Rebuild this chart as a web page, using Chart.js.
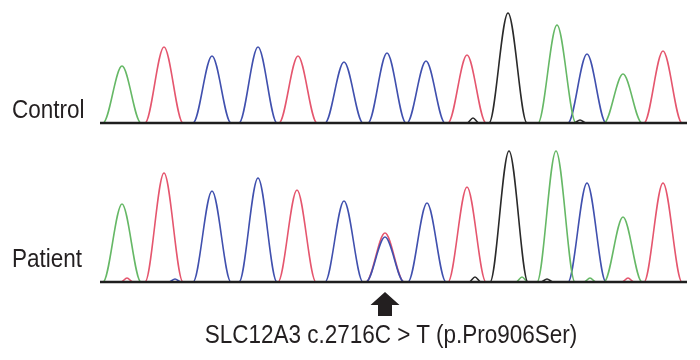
<!DOCTYPE html>
<html>
<head>
<meta charset="utf-8">
<script src="https://cdn.jsdelivr.net/npm/chart.js@4.4.1/dist/chart.umd.min.js"></script>
<style>
  body { margin: 0; background: #fff; }
  #wrap { position: relative; width: 700px; height: 360px; }
  #trace { position: absolute; left: 0; top: 0; }
  .lbl {
    position: absolute;
    font-family: "Liberation Sans", Arial, sans-serif;
    font-size: 25px;
    line-height: 25px;
    color: #231f20;
    white-space: nowrap;
    transform-origin: left top;
    transform: scaleX(0.9);
  }
  #caption { transform-origin: center top; transform: translateX(-50%) scaleX(0.9); }
</style>
</head>
<body>
<div id="wrap">
  <canvas id="trace" width="700" height="360"></canvas>
  <div class="lbl" style="left:12px; top:97px">Control</div>
  <div class="lbl" style="left:12px; top:246px">Patient</div>
  <div class="lbl" id="caption" style="left:391px; top:322px">SLC12A3 c.2716C &gt; T (p.Pro906Ser)</div>
</div>
<script>
// trace extent (scan position) and mutated base
const baseStart = 100;
const baseEnd = 687;
const mutationPos = 385;

// Control: peak centres and heights per channel
const ctrlGreenPos = [122, 557, 623];
const ctrlGreenHt = [57, 98, 49];
const ctrlRedPos = [164, 298, 467, 663];
const ctrlRedHt = [76, 67, 68, 72];
const ctrlBluePos = [212, 258, 344, 387, 426, 587];
const ctrlBlueHt = [67, 76, 61, 70, 62, 69];
const ctrlBlackPos = [473, 508, 580];
const ctrlBlackHt = [5, 110, 3];

// Patient: peak centres and heights per channel
const patGreenPos = [122, 522, 556, 590, 623];
const patGreenHt = [78, 5, 131, 4, 65];
const patRedPos = [127, 164, 297, 385, 467, 628, 663];
const patRedHt = [4, 109, 92, 49, 95, 4, 99];
const patBluePos = [175, 212, 258, 344, 385, 427, 587];
const patBlueHt = [3, 91, 104, 81, 45, 79, 99];
const patBlackPos = [475, 509, 547];
const patBlackHt = [5, 131, 3];

const GREEN = '#66b866';
const RED = '#e5566e';
const BLUE = '#4050ae';
const BLACK = '#2a2a2a';

function tracePoints(pos, ht) {
  const pts = [{x: baseStart, y: 0}];
  pos.forEach((c, i) => {
    const w = ht[i] < 10 ? 6 : 19; // small noise bumps are narrower
    pts.push({x: c - w, y: 0}, {x: c, y: ht[i]}, {x: c + w, y: 0});
  });
  pts.push({x: baseEnd, y: 0});
  return pts;
}

function channel(pos, ht, color, axis) {
  return {
    data: tracePoints(pos, ht),
    borderColor: color,
    borderWidth: 1.6,
    pointRadius: 0,
    cubicInterpolationMode: 'monotone',
    yAxisID: axis,
    order: 1
  };
}

function baseline(axis) {
  return {
    data: [{x: baseStart, y: 0}, {x: baseEnd, y: 0}],
    borderColor: '#1e1e1e',
    borderWidth: 2.4,
    pointRadius: 0,
    yAxisID: axis,
    order: 0
  };
}

const arrowPlugin = {
  id: 'arrow',
  afterDatasetsDraw(chart) {
    const ctx = chart.ctx;
    const x = chart.scales.x.getPixelForValue(mutationPos);
    const y = chart.scales.yP.getPixelForValue(0) + 10;
    ctx.save();
    ctx.fillStyle = '#231f20';
    ctx.beginPath();
    ctx.moveTo(x, y);
    ctx.lineTo(x + 14.5, y + 13);
    ctx.lineTo(x + 7, y + 13);
    ctx.lineTo(x + 7, y + 24);
    ctx.lineTo(x - 7, y + 24);
    ctx.lineTo(x - 7, y + 13);
    ctx.lineTo(x - 14.5, y + 13);
    ctx.closePath();
    ctx.fill();
    ctx.restore();
  }
};

const config = {
  type: 'line',
  data: {
    datasets: [
      baseline('yC'),
      baseline('yP'),
      channel(ctrlBlackPos, ctrlBlackHt, BLACK, 'yC'),
      channel(ctrlGreenPos, ctrlGreenHt, GREEN, 'yC'),
      channel(ctrlRedPos, ctrlRedHt, RED, 'yC'),
      channel(ctrlBluePos, ctrlBlueHt, BLUE, 'yC'),
      channel(patBlackPos, patBlackHt, BLACK, 'yP'),
      channel(patGreenPos, patGreenHt, GREEN, 'yP'),
      channel(patBluePos, patBlueHt, BLUE, 'yP'),
      channel(patRedPos, patRedHt, RED, 'yP')
    ]
  },
  options: {
    responsive: false,
    animation: false,
    events: [],
    layout: { padding: 0 },
    scales: {
      x: { type: 'linear', min: 0, max: 700, display: false },
      yC: { min: -237, max: 123, display: false },
      yP: { min: -78, max: 282, display: false }
    },
    plugins: {
      legend: { display: false },
      tooltip: { enabled: false }
    }
  },
  plugins: [arrowPlugin]
};

window.onload = function() {
  const ctx = document.getElementById('trace').getContext('2d');
  new Chart(ctx, config);
};
</script>
</body>
</html>
